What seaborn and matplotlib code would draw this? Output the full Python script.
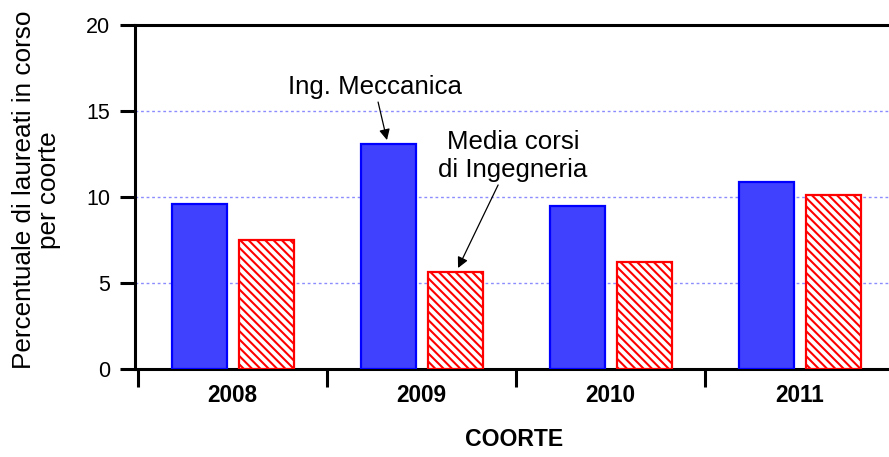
import pandas as pd
import numpy as np
import matplotlib
matplotlib.use("Agg")
import matplotlib.pyplot as plt
import seaborn as sns

# data
coorti = ["2008", "2009", "2010", "2011"]
meccanica = [9.6, 13.08, 9.5, 10.87]
media_ingegneria = [7.5, 5.64, 6.24, 10.1]
serie = ["Ing. Meccanica", "Media corsi di Ingegneria"]

df = pd.DataFrame({
    "Coorte": coorti * 2,
    "Valore": meccanica + media_ingegneria,
    "Serie": [serie[0]] * len(coorti) + [serie[1]] * len(coorti),
})

sns.set_style("white")
plt.rcParams["font.family"] = ["Liberation Sans", "DejaVu Sans"]
plt.rcParams["hatch.linewidth"] = 1.5
for key in ["text.color", "axes.labelcolor", "xtick.color", "ytick.color"]:
    plt.rcParams[key] = "black"

fig = plt.figure(figsize=(8.89, 4.57), dpi=100)
ax = fig.add_axes([0.1519, 0.1926, 0.8538, 0.7527])

sns.barplot(data=df, x="Coorte", y="Valore", hue="Serie", order=coorti,
            hue_order=serie, width=0.709, gap=0.18, legend=False,
            palette=["#4040ff", "white"], ax=ax, zorder=3)

# blue solid bars, red hatched bars
for bar in ax.containers[0]:
    bar.set_facecolor("#4040ff")
    bar.set_edgecolor("#0000ff")
    bar.set_linewidth(1.6)
for bar in ax.containers[1]:
    bar.set_facecolor("white")
    bar.set_edgecolor("#ff0000")
    bar.set_hatch("\\" * 4)
    bar.set_linewidth(1.6)

ax.set_ylim(0, 20)
ax.set_xlim(-0.516, 3.5)
ax.set_yticks([0, 5, 10, 15, 20])
ax.tick_params(axis="y", left=True, labelsize=15.5, length=11, width=2.2, pad=7)

# x ticks at category boundaries, labels in the middle
ax.set_xticks([-0.5, 0.5, 1.5, 2.5])
ax.set_xticklabels([])
ax.set_xticks(range(len(coorti)), minor=True)
ax.set_xticklabels(coorti, minor=True, fontsize=16.3, fontweight="bold")
ax.tick_params(axis="x", which="major", bottom=True, length=13, width=2.2)
ax.tick_params(axis="x", which="minor", bottom=True, length=0, pad=11)

# dotted grid
for v in [5, 10, 15]:
    ax.axhline(v, color="#8c8cff", linestyle=(0, (2, 2)), linewidth=1.0, zorder=1)

for side in ["left", "top", "bottom"]:
    ax.spines[side].set_linewidth(2.2)
    ax.spines[side].set_color("black")
ax.spines["right"].set_visible(False)

ax.set_xlabel("COORTE", fontsize=16.6, fontweight="bold", labelpad=15)
ax.set_ylabel("Percentuale di laureati in corso\nper coorte", fontsize=18.8,
              linespacing=1.05)
ax.yaxis.set_label_coords(-0.097, 0.52)

arrow = dict(arrowstyle="-|>", color="black", lw=0.9, mutation_scale=16,
             shrinkA=0, shrinkB=0)
ax.text(0.754, 16.4, "Ing. Meccanica", fontsize=18.6, ha="center", va="center")
ax.annotate("", xy=(0.817, 13.31), xytext=(0.770, 15.52), arrowprops=arrow)
ax.text(1.484, 12.38, "Media corsi\ndi Ingegneria", fontsize=18.6,
        ha="center", va="center", linespacing=1.24)
ax.annotate("", xy=(1.193, 5.87), xytext=(1.405, 10.70), arrowprops=arrow)

fig.savefig("out.png", dpi=100)
